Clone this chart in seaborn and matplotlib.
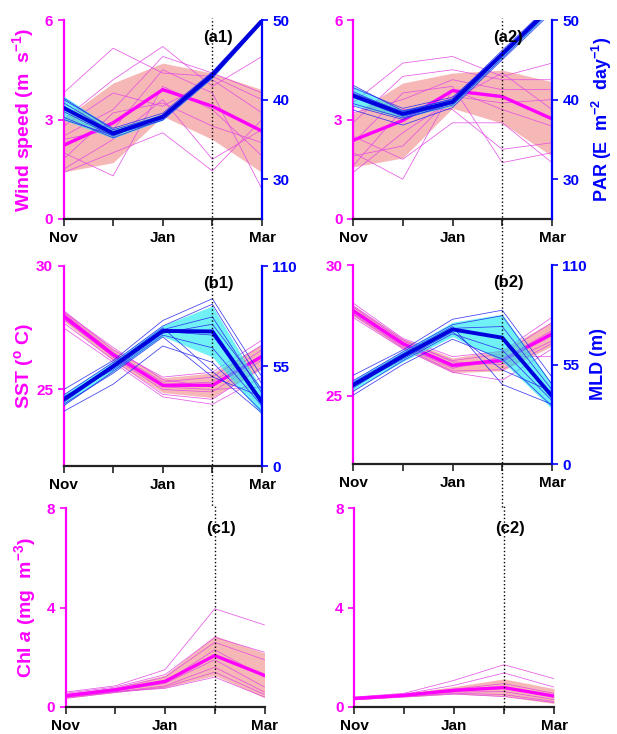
import numpy as np
import pandas as pd
import matplotlib
matplotlib.use("Agg")
import matplotlib.pyplot as plt
import seaborn as sns

months = ["Nov", "Dec", "Jan", "Feb", "Mar"]
month_ticks = ["Nov", "", "Jan", "", "Mar"]

# ---- (a1) wind speed / PAR ----
wind1_mean = [2.22, 2.90, 3.90, 3.40, 2.65]
wind1_sd = [0.80, 1.20, 0.80, 1.00, 1.25]
wind1_members = [
    [3.80, 5.15, 4.40, 4.30, 3.60],
    [3.00, 4.20, 5.20, 4.00, 4.90],
    [2.50, 3.30, 4.90, 4.40, 3.80],
    [1.50, 2.40, 3.60, 1.80, 2.70],
    [2.00, 1.30, 4.00, 3.30, 1.90],
    [2.80, 3.80, 3.40, 4.20, 3.20],
    [1.40, 2.00, 2.60, 1.45, 3.00],
    [2.40, 2.70, 4.50, 3.80, 0.90],
    [1.80, 3.20, 3.50, 2.80, 2.30],
]
par1_mean = [38.96, 35.75, 37.83, 43.10, 49.90]
par1_sd = [1.50, 0.60, 0.40, 0.40, 0.20]
par1_members = [
    [40.2, 36.2, 38.0, 43.3, 50.0],
    [39.6, 35.9, 37.6, 43.0, 49.8],
    [38.5, 35.4, 38.1, 43.4, 50.1],
    [37.8, 35.2, 37.5, 42.8, 49.7],
    [38.9, 36.0, 37.9, 43.1, 49.9],
    [37.5, 35.5, 37.7, 42.9, 50.0],
    [40.0, 36.4, 38.3, 43.5, 50.2],
    [39.2, 35.6, 37.4, 42.7, 49.6],
]

# ---- (a2) wind speed / PAR ----
wind2_mean = [2.37, 2.97, 3.87, 3.69, 3.02]
wind2_sd = [0.80, 1.13, 0.53, 0.80, 1.12]
wind2_members = [
    [3.50, 4.70, 4.90, 4.30, 4.70],
    [2.90, 4.30, 4.50, 4.20, 4.20],
    [3.20, 3.60, 4.20, 3.90, 3.90],
    [1.40, 2.60, 3.60, 4.40, 3.30],
    [2.00, 1.20, 3.90, 3.30, 2.80],
    [1.60, 3.30, 3.30, 2.10, 2.30],
    [2.50, 1.80, 2.90, 2.90, 1.70],
    [1.90, 2.20, 3.70, 3.50, 3.60],
    [2.30, 3.80, 4.00, 1.70, 2.00],
]
par2_mean = [40.5, 38.2, 39.7, 45.7, 51.7]
par2_sd = [1.20, 0.50, 0.50, 0.50, 0.50]
par2_members = [
    [41.8, 38.6, 40.0, 46.0, 52.0],
    [41.0, 38.3, 39.8, 45.9, 51.8],
    [40.3, 37.9, 39.5, 45.5, 51.5],
    [39.5, 37.7, 39.3, 45.2, 51.3],
    [40.8, 38.5, 40.1, 46.2, 52.1],
    [39.2, 37.5, 39.6, 45.6, 51.6],
    [41.5, 38.9, 40.3, 45.8, 52.0],
    [38.7, 36.8, 39.0, 45.0, 51.0],
]

# ---- (b1) SST / MLD ----
sst1_mean = [27.98, 26.41, 25.17, 25.17, 26.34]
sst1_sd = [0.20, 0.25, 0.30, 0.50, 0.50]
sst1_members = [
    [28.20, 26.60, 25.50, 25.70, 27.00],
    [28.10, 26.50, 25.30, 25.50, 26.80],
    [28.00, 26.40, 25.20, 25.30, 26.60],
    [27.90, 26.30, 25.00, 24.90, 26.20],
    [27.70, 26.20, 24.80, 24.60, 25.90],
    [27.50, 26.10, 24.70, 24.40, 25.50],
    [28.15, 26.70, 25.40, 25.10, 26.40],
    [27.85, 26.35, 25.10, 25.00, 25.10],
]
mld1_mean = [36.5, 54.8, 74.3, 74.0, 35.0]
mld1_sd = [3.0, 3.0, 3.0, 14.0, 7.0]
mld1_members = [
    [42, 58, 80, 92, 49],
    [39, 57, 77, 89, 45],
    [37, 55, 75, 82, 40],
    [35, 54, 74, 72, 36],
    [33, 52, 72, 65, 33],
    [30, 45, 66, 57, 30],
    [36, 56, 76, 52, 29],
    [38, 53, 73, 78, 42],
    [34, 51, 71, 49, 38],
]

# ---- (b2) SST / MLD ----
sst2_mean = [28.26, 27.00, 26.17, 26.36, 27.37]
sst2_sd = [0.20, 0.20, 0.28, 0.40, 0.47]
sst2_members = [
    [28.55, 27.20, 26.50, 26.70, 28.00],
    [28.40, 27.10, 26.35, 26.60, 27.80],
    [28.30, 27.00, 26.20, 26.40, 27.50],
    [28.20, 26.95, 26.10, 26.30, 27.30],
    [28.10, 26.85, 25.95, 26.00, 27.00],
    [28.00, 26.80, 25.90, 25.60, 26.80],
    [28.45, 27.15, 26.30, 26.20, 27.10],
    [28.15, 26.90, 26.05, 26.50, 26.50],
]
mld2_mean = [43.6, 59.6, 74.4, 69.8, 37.5]
mld2_sd = [3.0, 3.0, 4.0, 13.0, 7.0]
mld2_members = [
    [49, 63, 80, 85, 48],
    [46, 62, 77, 82, 44],
    [44, 60, 75, 76, 41],
    [42, 59, 74, 70, 38],
    [40, 57, 72, 63, 35],
    [38, 55, 69, 58, 32],
    [45, 61, 76, 44, 33],
    [43, 58, 73, 52, 40],
]

# ---- (c1) / (c2) Chl a ----
chl1_mean = [0.45, 0.69, 1.03, 2.07, 1.27]
chl1_sd = [0.10, 0.10, 0.25, 0.80, 0.90]
chl1_members = [
    [0.60, 0.85, 1.50, 3.95, 3.30],
    [0.55, 0.80, 1.30, 2.80, 2.20],
    [0.50, 0.75, 1.20, 2.60, 1.90],
    [0.45, 0.70, 1.00, 2.30, 1.20],
    [0.40, 0.65, 0.95, 1.90, 0.80],
    [0.38, 0.60, 0.85, 1.60, 0.60],
    [0.35, 0.58, 0.80, 1.40, 0.50],
    [0.42, 0.62, 0.75, 1.20, 0.40],
]
chl2_mean = [0.34, 0.47, 0.67, 0.78, 0.44]
chl2_sd = [0.05, 0.07, 0.15, 0.35, 0.30]
chl2_members = [
    [0.40, 0.55, 1.07, 1.70, 1.14],
    [0.38, 0.52, 0.87, 1.37, 0.80],
    [0.36, 0.50, 0.72, 0.94, 0.55],
    [0.34, 0.47, 0.65, 0.75, 0.40],
    [0.32, 0.45, 0.60, 0.62, 0.30],
    [0.30, 0.42, 0.55, 0.50, 0.22],
    [0.29, 0.40, 0.52, 0.42, 0.18],
]

MAG = "#FF00FF"
MAG_THIN = "#E448E4"
PINK = "#F08484"
BLUE = "#0000FF"
BLUE_MEAN = "#0000DD"
BLUE_THIN = "#2828F0"
CYAN = "#10E8F0"

sns.set_style("ticks")
plt.rcParams["font.family"] = ["Liberation Sans", "DejaVu Sans"]
plt.rcParams["font.weight"] = "bold"
plt.rcParams["axes.labelweight"] = "bold"
plt.rcParams["mathtext.fontset"] = "custom"
plt.rcParams["mathtext.rm"] = "Liberation Sans:bold"
plt.rcParams["mathtext.bf"] = "Liberation Sans:bold"
plt.rcParams["mathtext.it"] = "Liberation Sans:bold:italic"
plt.rcParams["mathtext.default"] = "bf"

TICK_FS = 11
LABEL_FS = 14


def members_frame(members):
    rows = []
    for i, row in enumerate(members):
        for j, v in enumerate(row):
            rows.append({"month": j, "value": v, "member": i})
    return pd.DataFrame(rows)


def draw_series(ax, mean, sd, members, band, band_alpha, thin, thick, lw):
    x = np.arange(len(months))
    mean = np.asarray(mean)
    sd = np.asarray(sd)
    ax.fill_between(x, mean - sd, mean + sd, color=band, alpha=band_alpha, lw=0)
    sns.lineplot(data=members_frame(members), x="month", y="value", units="member",
                 estimator=None, color=thin, lw=0.55, alpha=0.9, ax=ax, legend=False)
    sns.lineplot(x=x, y=mean, color=thick, lw=lw, ax=ax)
    ax.set_xlabel("")
    ax.set_ylabel("")


def style_left(ax, ylim, yticks, ylabel=None):
    ax.set_xlim(0, 4)
    ax.set_ylim(*ylim)
    ax.set_yticks(yticks)
    ax.set_xticks(range(len(months)))
    ax.set_xticklabels(month_ticks)
    ax.spines["top"].set_visible(False)
    ax.spines["right"].set_visible(False)
    ax.spines["left"].set_color(MAG)
    ax.spines["left"].set_linewidth(1.6)
    ax.spines["bottom"].set_color("#222222")
    ax.spines["bottom"].set_linewidth(1.6)
    ax.tick_params(axis="y", colors=MAG, labelsize=TICK_FS, length=4, width=1.2)
    ax.tick_params(axis="x", colors="#222222", labelcolor="black", labelsize=TICK_FS,
                   length=5, width=1.2)
    if ylabel:
        ax.set_ylabel(ylabel, color=MAG, fontsize=LABEL_FS)
        ax.yaxis.set_label_coords(-0.14, 0.5)


def style_right(ax2, ylim, yticks, ylabel=None):
    ax2.set_ylim(*ylim)
    ax2.set_yticks(yticks)
    for s in ["left", "top", "bottom"]:
        ax2.spines[s].set_visible(False)
    ax2.spines["right"].set_color(BLUE)
    ax2.spines["right"].set_linewidth(1.6)
    ax2.tick_params(axis="y", colors=BLUE, labelsize=TICK_FS, length=4, width=1.2)
    if ylabel:
        ax2.set_ylabel(ylabel, color=BLUE, fontsize=13)
        ax2.yaxis.set_label_coords(1.19, 0.5)


def mark_feb(ax, tag, ymin, tag_y):
    ax.axvline(3, ymin=ymin, ymax=1.01, color="black", ls=":", lw=1.0,
               clip_on=False, zorder=20)
    ax.text(3.12, tag_y, tag, transform=ax.get_xaxis_transform(), ha="center",
            va="center", fontsize=12, fontweight="bold", color="black", zorder=21)


fig = plt.figure(figsize=(6.17, 7.34), dpi=100)
W, H = 617, 734


def add_axes(left, top, right, bottom):
    return fig.add_axes([left / W, (H - bottom) / H, (right - left) / W, (bottom - top) / H])


wind_label = r"Wind speed (m  s$^{-1}$)"
par_label = r"PAR (E  m$^{-2}$  day$^{-1}$)"
sst_label = r"SST ($^{o}$ C)"
mld_label = "MLD (m)"
chl_label = r"Chl $\mathit{a}$ (mg  m$^{-3}$)"

panels_top = [
    ("(a1)", 63.5, 20, 262, 219, wind1_mean, wind1_sd, wind1_members, par1_mean, par1_sd, par1_members,
     (0, 6), [0, 3, 6], wind_label, (25, 50), [30, 40, 50], None),
    ("(a2)", 353, 20, 552, 219, wind2_mean, wind2_sd, wind2_members, par2_mean, par2_sd, par2_members,
     (0, 6), [0, 3, 6], None, (25, 50), [30, 40, 50], par_label),
    ("(b1)", 63.5, 266, 262, 466, sst1_mean, sst1_sd, sst1_members, mld1_mean, mld1_sd, mld1_members,
     (21.9, 30), [25, 30], sst_label, (0, 110), [0, 55, 110], None),
    ("(b2)", 353, 265, 552, 464, sst2_mean, sst2_sd, sst2_members, mld2_mean, mld2_sd, mld2_members,
     (22.4, 30), [25, 30], None, (0, 110), [0, 55, 110], mld_label),
]

for (tag, l, t, r, b, m_mean, m_sd, m_mem, b_mean, b_sd, b_mem,
     lylim, lticks, llabel, rylim, rticks, rlabel) in panels_top:
    ax = add_axes(l, t, r, b)
    draw_series(ax, m_mean, m_sd, m_mem, PINK, 0.58, MAG_THIN, MAG, 2.4)
    style_left(ax, lylim, lticks, llabel)
    ax2 = ax.twinx()
    draw_series(ax2, b_mean, b_sd, b_mem, CYAN, 0.6, BLUE_THIN, BLUE_MEAN, 2.8)
    style_right(ax2, rylim, rticks, rlabel)
    gap = (265 - 219) / (b - t) if tag.startswith("(a") else (508 - 465) / (b - t)
    mark_feb(ax2, tag, -gap, 0.91)

panels_bottom = [
    ("(c1)", 65.5, 508, 264.5, 707, chl1_mean, chl1_sd, chl1_members, chl_label),
    ("(c2)", 354, 508, 554, 707, chl2_mean, chl2_sd, chl2_members, None),
]
for tag, l, t, r, b, m_mean, m_sd, m_mem, llabel in panels_bottom:
    ax = add_axes(l, t, r, b)
    draw_series(ax, m_mean, m_sd, m_mem, PINK, 0.58, MAG_THIN, MAG, 2.4)
    style_left(ax, (0, 8), [0, 4, 8], llabel)
    mark_feb(ax, tag, -0.015, 0.895)

fig.savefig("out.png", dpi=100)
